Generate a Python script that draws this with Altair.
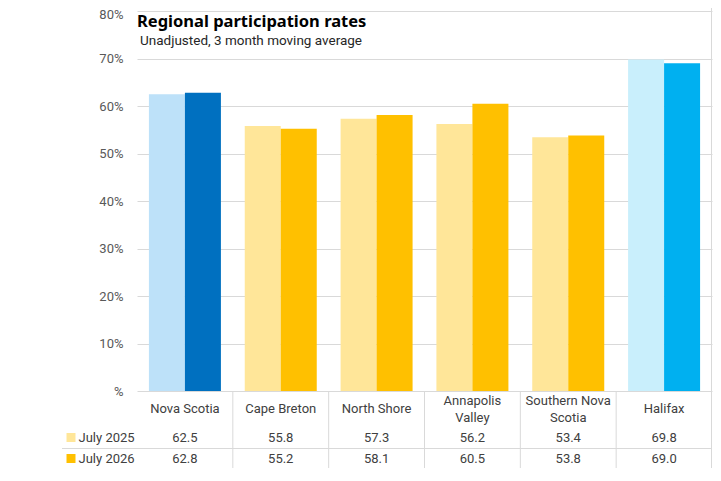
import altair as alt
import pandas as pd

regions = ["Nova Scotia", "Cape Breton", "North Shore", "Annapolis Valley", "Southern Nova Scotia", "Halifax"]
region_labels = ["Nova Scotia", "Cape Breton", "North Shore", "Annapolis\nValley", "Southern Nova\nScotia", "Halifax"]
series = ["July 2025", "July 2026"]
jul2025 = [62.5, 55.8, 57.3, 56.2, 53.4, 69.8]
jul2026 = [62.8, 55.2, 58.1, 60.5, 53.8, 69.0]
light_colors = ["#BDE1F9", "#FFE699", "#FFE699", "#FFE699", "#FFE699", "#C9EFFC"]
dark_colors = ["#0070C0", "#FFC000", "#FFC000", "#FFC000", "#FFC000", "#00B0F0"]
legend_colors = ["#FFE699", "#FFC000"]
y_ticks = [0, 10, 20, 30, 40, 50, 60, 70, 80]
title_text = "Regional participation rates"
subtitle_text = "Unadjusted, 3 month moving average"

W, H = 575, 380
FONT = "Roboto"
GRID = "#d9d9d9"
TXT = "#404040"

rows = []
for i, r in enumerate(regions):
    rows.append({"region": r, "series": series[0], "value": jul2025[i], "color": light_colors[i]})
    rows.append({"region": r, "series": series[1], "value": jul2026[i], "color": dark_colors[i]})
df = pd.DataFrame(rows)
df_cat = pd.DataFrame({"region": regions, "label": region_labels})
df_cat["lines"] = df_cat["label"].str.count("\n") + 1
df_leg = pd.DataFrame({"series": series, "color": legend_colors})
one = pd.DataFrame({"a": [0]})

step = W / len(regions)
pin = 1 - 72 / step
xscale = alt.Scale(domain=regions, paddingInner=pin, paddingOuter=pin / 2)
xenc = alt.X("region:N", sort=regions, scale=xscale, axis=None)

bars = alt.Chart(df).mark_bar().encode(
    x=xenc,
    xOffset=alt.XOffset("series:N", sort=series, scale=alt.Scale(paddingInner=0, paddingOuter=0)),
    y=alt.Y("value:Q", scale=alt.Scale(domain=[0, 80], nice=False),
            axis=alt.Axis(values=y_ticks, title=None, grid=True, gridColor=GRID, gridWidth=1,
                          domain=False, ticks=False, labelPadding=14, labelFontSize=13,
                          labelFont=FONT, labelColor="#595959",
                          labelOffset={"condition": {"test": "datum.value == 80", "value": 3.5}, "value": 0},
                          labelExpr="datum.value == 0 ? '%' : datum.value + '%'")),
    color=alt.Color("color:N", scale=None),
)

title = alt.Chart(one).mark_text(align="left", baseline="alphabetic", fontSize=16.5, fontWeight="bold",
                                 font="Noto Sans", color="#000000").encode(
    x=alt.value(0), y=alt.value(16), text=alt.value(title_text))
subtitle = alt.Chart(one).mark_text(align="left", baseline="alphabetic", fontSize=13.5,
                                    font=FONT, color="#262626").encode(
    x=alt.value(3), y=alt.value(34), text=alt.value(subtitle_text))

LH = 17
CAT_Y = 398
layers = [bars, title, subtitle]
for n in [1, 2]:
    layers.append(
        alt.Chart(df_cat).transform_filter(alt.datum.lines == n).mark_text(
            lineBreak="\n", baseline="middle", fontSize=13, font=FONT,
            color=TXT, lineHeight=LH).encode(
            x=xenc, y=alt.value(CAT_Y - (n - 1) * LH / 2), text="label:N"))

row_y = [426.5, 447.5]
for k, s in enumerate(series):
    layers.append(
        alt.Chart(df).transform_filter(alt.datum.series == s).mark_text(
            baseline="middle", fontSize=13, font=FONT, color=TXT).encode(
            x=xenc, y=alt.value(row_y[k]), text=alt.Text("value:Q", format=".1f")))
    layers.append(
        alt.Chart(df_leg).transform_filter(alt.datum.series == s).mark_text(
            align="left", baseline="middle", fontSize=13, font=FONT, color=TXT).encode(
            x=alt.value(-58.5), y=alt.value(row_y[k]), text="series:N"))
    layers.append(
        alt.Chart(df_leg).transform_filter(alt.datum.series == s).mark_square(
            size=81, opacity=1).encode(
            x=alt.value(-66), y=alt.value(row_y[k]), color=alt.Color("color:N", scale=None)))

# table rules
BOTTOM = 457.5
for yy in [437.5, BOTTOM]:
    layers.append(alt.Chart(one).mark_rule(color=GRID, strokeWidth=1).encode(
        x=alt.value(-75), x2=alt.value(W), y=alt.value(yy)))
for k in range(1, len(regions) + 1):
    top = -3 if k == len(regions) else H
    xx = step * k - (0.5 if k == len(regions) else 0)
    layers.append(alt.Chart(one).mark_rule(color=GRID, strokeWidth=1).encode(
        x=alt.value(xx), y=alt.value(top), y2=alt.value(BOTTOM)))

chart = alt.layer(*layers).properties(
    width=W, height=H,
    autosize=alt.AutoSizeParams(type="none"),
    padding={"left": 129, "top": 3, "right": 1, "bottom": 77},
).configure_view(stroke=None)

chart.save("out.html", embed_options={"renderer": "svg", "actions": False})
